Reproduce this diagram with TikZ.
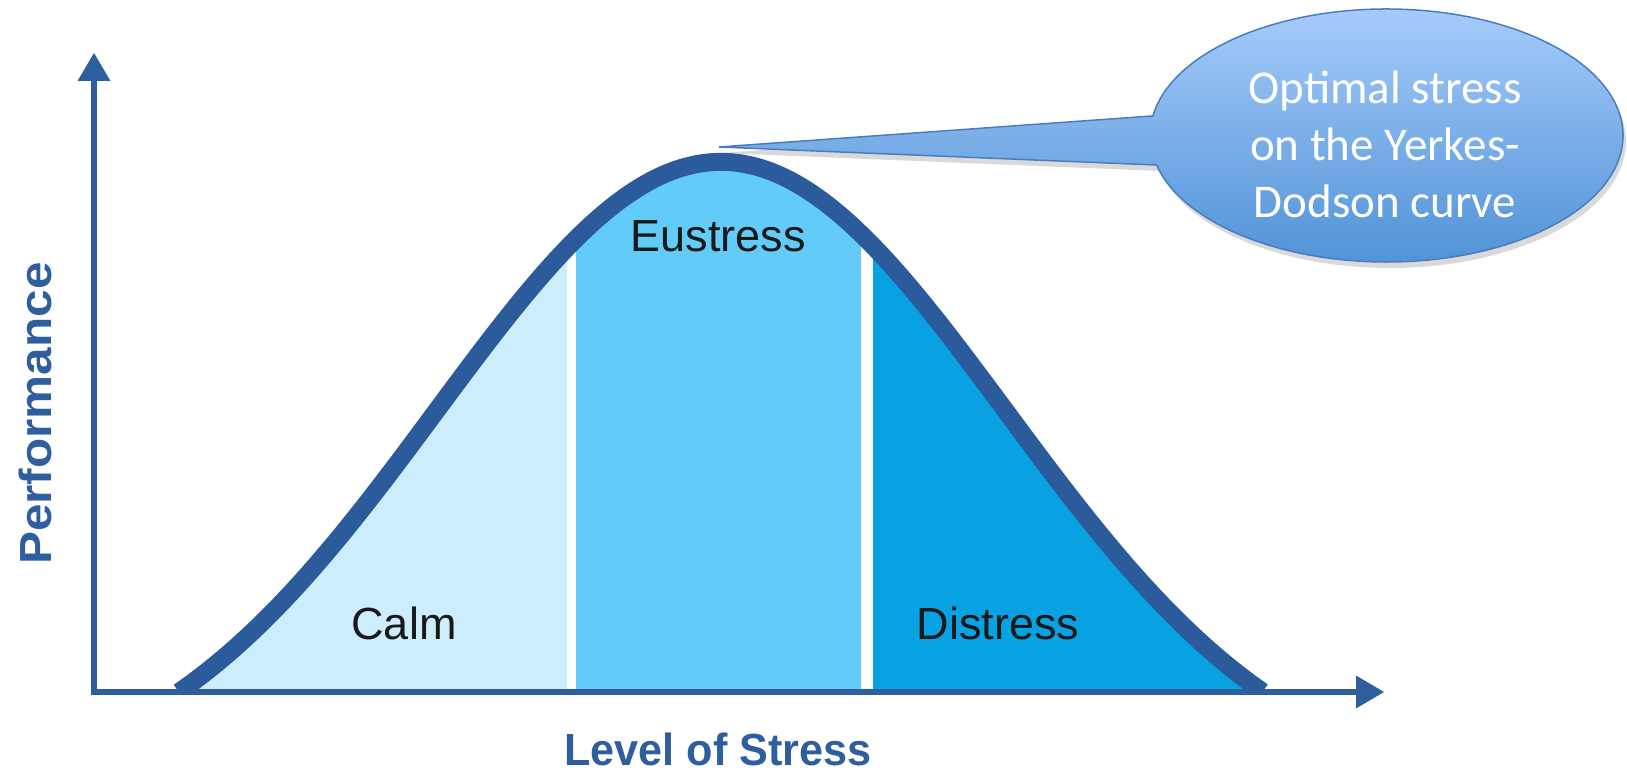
\documentclass[tikz,border=0pt]{standalone}
\usepackage{fontspec}
\setmainfont{Liberation Sans}
\newfontfamily\calibri{Carlito}
\usepackage{tikz}
\usetikzlibrary{shadows}

\definecolor{axisblue}{HTML}{2E5E9E}
\definecolor{curveblue}{HTML}{2C5B9B}
\definecolor{calmfill}{HTML}{CCEEFC}
\definecolor{eufill}{HTML}{62CBF8}
\definecolor{disfill}{HTML}{08A2E2}
\definecolor{bubtop}{HTML}{A9CDFB}
\definecolor{bubbot}{HTML}{4E91D6}
\definecolor{bubline}{HTML}{4A7DBD}

\begin{document}
\begin{tikzpicture}[x=1pt,y=1pt]
        \tikzstyle{zone}=[font=\fontsize{45}{54}\selectfont, text=black!90, anchor=base]
        \tikzstyle{axlbl}=[font=\fontsize{45}{54}\selectfont\bfseries, text=axisblue, anchor=base]
        \tikzstyle{bell}=[domain=-1.902:1.902, samples=120, smooth, variable=\u]
        \tikzstyle{axis}=[axisblue, line width=6.5pt]

        \useasboundingbox (0,0) rectangle (1627,774);

        \coordinate (O)    at (94,82);
        \coordinate (ytip) at (94,721);
        \coordinate (xtip) at (1384,82);
        \coordinate (peak) at (719,627);
        \coordinate (C)    at (1386.5,638.5);

        % zones under the curve
        \begin{scope}
            \clip plot[bell] ({721+285*\u}, {82+634*(exp(-0.5*\u*\u)-0.164)}) -- cycle;
            \fill[calmfill] (150,82) rectangle (567,630);
            \fill[eufill]   (576,82) rectangle (861,630);
            \fill[disfill]  (873,82) rectangle (1300,630);
        \end{scope}

        % the curve
        \begin{scope}
            \clip (100,82) rectangle (1400,700);
            \draw[curveblue, line width=18pt] plot[bell] ({721+285*\u}, {82+634*(exp(-0.5*\u*\u)-0.164)});
        \end{scope}

        % axes
        \draw[axis] ([yshift=-3.25pt]O) -- ([yshift=-26pt]ytip);
        \draw[axis] ([xshift=-3.25pt]O) -- ([xshift=-26pt]xtip);
        \fill[axisblue] (ytip) -- ++(-16.5,-28) -- ++(33,0) -- cycle;
        \fill[axisblue] (xtip) -- ++(-28,16.5) -- ++(0,-33) -- cycle;

        \node[zone] (calm) at (404,135) {Calm};
        \node[zone] (eu)   at (718,522) {Eustress};
        \node[zone] (dis)  at (998,135) {Distress};

        \node[axlbl] (xlbl) at (718,9) {\scalebox{0.96}[1]{Level of Stress}};
        \node[axlbl, rotate=90] (ylbl) at (51,360.5) {\scalebox{1.1}[1]{Performance}};

        % callout
        \path[drop shadow={opacity=0.3, shadow xshift=3pt, shadow yshift=-6pt},
              top color=bubtop, bottom color=bubbot, draw=bubline, line width=1.5pt]
              (peak) -- ([shift={(171.1:236.5 and 126.5)}]C)
              arc[start angle=171.1, end angle=-166.5, x radius=236.5, y radius=126.5] -- cycle;
        \node[font=\calibri\fontsize{47}{57}\selectfont, text=white, align=center] (bubble)
              at (1385,630) {Optimal stress\\on the Yerkes-\\Dodson curve};
\end{tikzpicture}
\end{document}
